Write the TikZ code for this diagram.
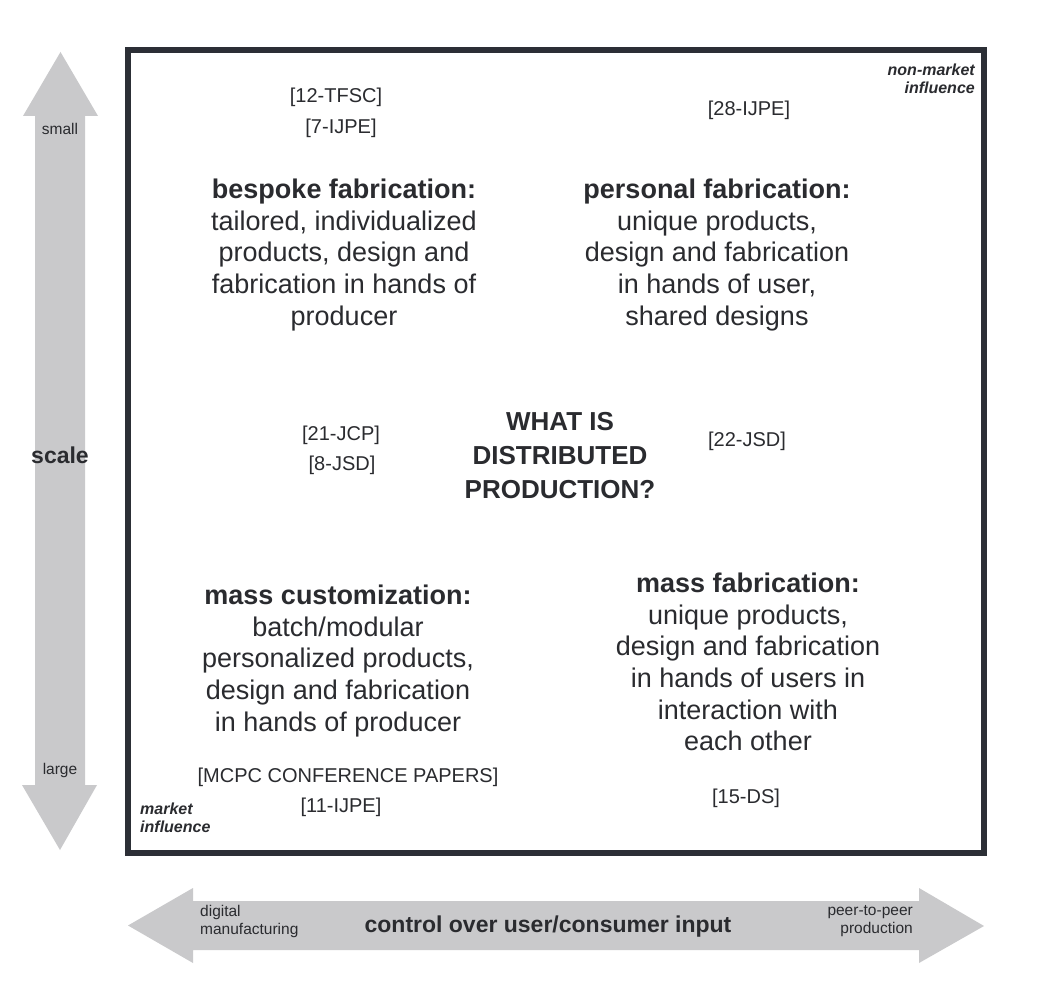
\documentclass[tikz,border=0pt]{standalone}
\usepackage{fontspec}
\setmainfont{Liberation Sans}
\definecolor{arrowgray}{HTML}{C9C9CB}
\definecolor{txt}{HTML}{2A2B2F}
\definecolor{frame}{HTML}{2C2F36}
\begin{document}
\begin{tikzpicture}[x=1pt,y=-1pt,
  every node/.style={inner sep=0pt,text=txt,align=center},
  big/.style={font=\fontsize{27}{31.6}\selectfont},
  central/.style={font=\fontsize{26}{34}\selectfont\bfseries},
  ref/.style={font=\fontsize{20}{30}\selectfont},
  infl/.style={font=\fontsize{16}{18.5}\selectfont\bfseries\itshape},
  axislab/.style={font=\fontsize{15.5}{18}\selectfont},
  axistitle/.style={font=\fontsize{23}{26}\selectfont\bfseries},
  arrowshape/.style={fill=arrowgray,draw=none}]
\useasboundingbox (0,0) rectangle (1037,1006);
\fill[white] (0,0) rectangle (1037,1006);
% vertical scale arrow
\fill[arrowshape] (60.5,52) -- (98,116) -- (85,116) -- (85,785) -- (97,785)
  -- (60,850) -- (22,785) -- (35,785) -- (35,116) -- (23,116) -- cycle;
% horizontal arrow
\fill[arrowshape] (128,925.5) -- (193,888) -- (193,901) -- (919,901) -- (919,888)
  -- (984,926) -- (919,963) -- (919,950) -- (193,950) -- (193,963) -- cycle;
% frame
\draw[frame,line width=6pt] (128,50) rectangle (984,853);

% axis labels
\node[axislab] (small) at (60,129) {small};
\node[axislab] (large) at (60,770) {large};
\node[axistitle] (scale) at (60,455) {scale};
\node[axislab,align=left,anchor=west] (digital) at (200,921) {digital\\manufacturing};
\node[axislab,align=right,anchor=east] (p2p) at (913,921) {peer-to-peer\\production};
\node[axistitle] (control) at (548,927) {control over user/consumer input};

% influence labels
\node[infl,align=right,anchor=east] (nonmarket) at (975,79) {non-market\\influence};
\node[infl,align=left,anchor=west] (market) at (140,818) {market\\influence};

% references
\node[ref] (r12) at (336,97) {[12-TFSC]};
\node[ref] (r7) at (341,128) {[7-IJPE]};
\node[ref] (r28) at (749,110) {[28-IJPE]};
\node[ref] (r21) at (341,435) {[21-JCP]};
\node[ref] (r8) at (342,465) {[8-JSD]};
\node[ref] (r22) at (747,441) {[22-JSD]};
\node[ref] (mcpc) at (348,777) {[MCPC CONFERENCE PAPERS]};
\node[ref] (r11) at (341,807) {[11-IJPE]};
\node[ref] (r15) at (746,798) {[15-DS]};

% central question
\node[central] (what) at (560,456) {WHAT IS\\DISTRIBUTED\\PRODUCTION?};

% quadrants
\node[big] (bespoke) at (344,255) {\textbf{bespoke fabrication:}\\tailored, individualized\\products, design and\\fabrication in hands of\\producer};
\node[big] (personal) at (717,255) {\textbf{personal fabrication:}\\unique products,\\design and fabrication\\in hands of user,\\shared designs};
\node[big] (masscust) at (338,661) {\textbf{mass customization:}\\batch/modular\\personalized products,\\design and fabrication\\in hands of producer};
\node[big] (massfab) at (748,662) {\textbf{mass fabrication:}\\unique products,\\design and fabrication\\in hands of users in\\interaction with\\each other};
\end{tikzpicture}
\end{document}
